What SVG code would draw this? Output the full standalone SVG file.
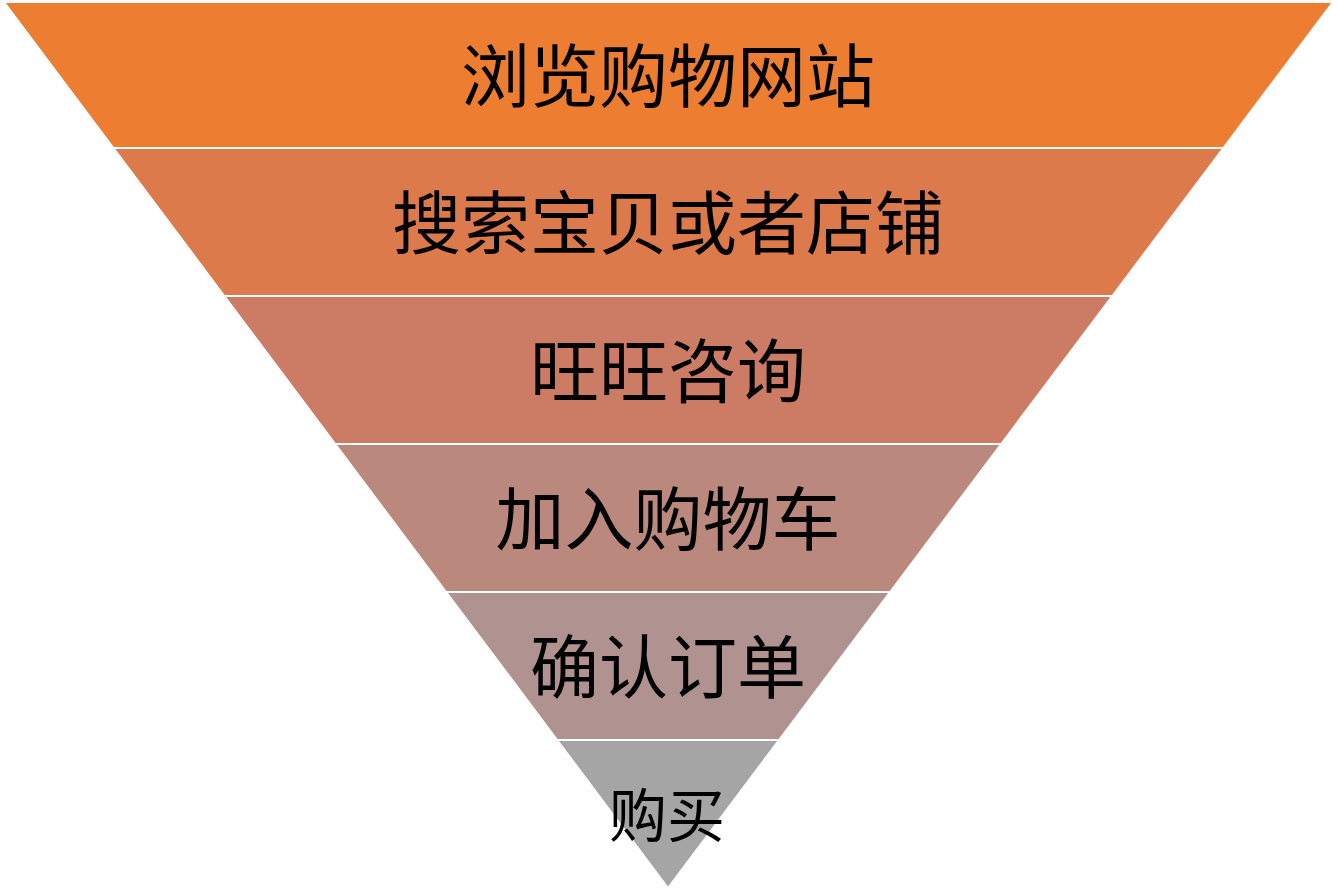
<svg xmlns="http://www.w3.org/2000/svg" width="1338" height="892" viewBox="0 0 1338 892">
<style>
.layer{stroke:#FFFFFF;stroke-width:2;stroke-linejoin:miter}
.lbl{font-family:"Noto Sans CJK SC","Noto Sans CJK JP",sans-serif;font-size:69px;fill:#000000;text-anchor:middle;dominant-baseline:central}
</style>
<rect width="1338" height="892" fill="#FFFFFF"/>
<g id="layer1">
<polygon class="layer" fill="#ED7D31" points="4,2 1333,2 1223.4,148 113.4,148"/>
<text class="lbl" x="668" y="72">浏览购物网站</text>
</g>
<g id="layer2">
<polygon class="layer" fill="#DC7A4C" points="113.4,148 1223.4,148 1112.3,296 224.3,296"/>
<text class="lbl" x="668" y="219">搜索宝贝或者店铺</text>
</g>
<g id="layer3">
<polygon class="layer" fill="#CC7C64" points="224.3,296 1112.3,296 1001.2,444 335.2,444"/>
<text class="lbl" x="668" y="367">旺旺咨询</text>
</g>
<g id="layer4">
<polygon class="layer" fill="#BA887C" points="335.2,444 1001.2,444 890.1,592 446.1,592"/>
<text class="lbl" x="668" y="515">加入购物车</text>
</g>
<g id="layer5">
<polygon class="layer" fill="#B09390" points="446.1,592 890.1,592 779.1,740 557.1,740"/>
<text class="lbl" x="668" y="663">确认订单</text>
</g>
<g id="layer6">
<polygon class="layer" fill="#A5A5A5" points="557.1,740 779.1,740 668,888"/>
<text class="lbl" x="667" y="812" style="font-size:58px">购买</text>
</g>
<g id="connectors"></g>
</svg>
